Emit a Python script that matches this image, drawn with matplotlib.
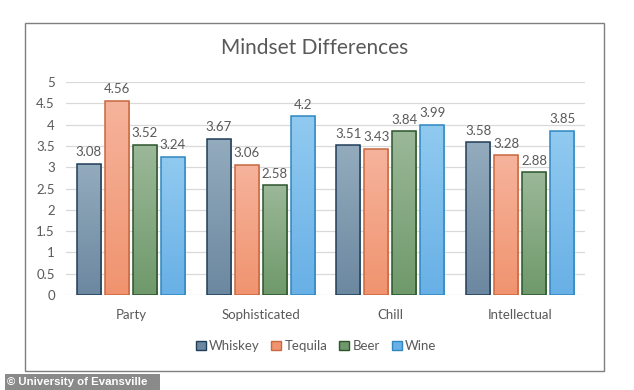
import numpy as np
import matplotlib
matplotlib.use("Agg")
from matplotlib import pyplot as plt
from matplotlib.patches import Rectangle
from matplotlib.colors import LinearSegmentedColormap

plt.rcParams['font.family'] = ['Lato', 'DejaVu Sans']

# 数据
categories = ['Party', 'Sophisticated', 'Chill', 'Intellectual']
series = ['Whiskey', 'Tequila', 'Beer', 'Wine']
whiskey = [3.08, 3.67, 3.51, 3.58]
tequila = [4.56, 3.06, 3.43, 3.28]
beer = [3.52, 2.58, 3.84, 2.88]
wine = [3.24, 4.2, 3.99, 3.85]
values = [whiskey, tequila, beer, wine]

# 渐变色 (上, 下) 和边框色
top_cols = ['#93abbd', '#f6b39c', '#9bb898', '#91caf0']
bot_cols = ['#6c88a0', '#f0946f', '#6f996b', '#68b0e6']
edge_cols = ['#203d58', '#c9673f', '#2b552b', '#2f87c0']
text_col = '#595959'

W, H = 634, 390
fig = plt.figure(figsize=(W / 100, H / 100), dpi=100)
ax = fig.add_axes([66 / W, (H - 295) / H, (585 - 66) / W, (295 - 82) / H])

x = np.arange(len(categories))
bw = 0.185
step = 0.216

for i, name in enumerate(series):
    pos = x + (i - 1.5) * step
    bars = ax.bar(pos, values[i], width=bw, facecolor='none',
                  edgecolor=edge_cols[i], linewidth=1.1, zorder=3, label=name)
    cmap = LinearSegmentedColormap.from_list('g%d' % i, [bot_cols[i], top_cols[i]])
    for b, v in zip(bars, values[i]):
        grad = np.linspace(0, 1, 100).reshape(-1, 1)
        im = ax.imshow(grad, cmap=cmap, origin='lower', aspect='auto',
                       extent=[b.get_x(), b.get_x() + bw, 0, v], zorder=2)
        im.set_clip_path(b)
        ax.annotate(f'{v:g}', (b.get_x() + bw / 2, v), xytext=(0, 4),
                    textcoords='offset points', ha='center', va='bottom',
                    fontsize=9.5, color=text_col)

ax.set_xlim(-0.5, 3.5)
ax.set_ylim(0, 5)
ax.set_yticks(np.arange(0, 5.01, 0.5))
ax.set_yticklabels([f'{t:g}' for t in np.arange(0, 5.01, 0.5)])
ax.set_xticks(x)
ax.set_xticklabels(categories)
ax.tick_params(length=0, labelsize=9.5, colors=text_col, pad=10)
ax.tick_params(axis='y', pad=8)
ax.yaxis.grid(True, color='#d9d9d9', linewidth=0.9, zorder=0)
ax.set_axisbelow(True)
for s in ax.spines.values():
    s.set_visible(False)

fig.text(315 / W, 1 - 48 / H, 'Mindset Differences', ha='center', va='center',
         fontsize=15, color=text_col)

handles = [Rectangle((0, 0), 1, 1, facecolor=bot_cols[i], edgecolor=edge_cols[i],
                     linewidth=1) for i in range(4)]
fig.legend(handles, series, loc='center', bbox_to_anchor=(316 / W, 1 - 346 / H),
           ncol=4, frameon=False, fontsize=9.5, handlelength=0.75, handleheight=0.75,
           handletextpad=0.25, columnspacing=0.9, labelcolor=text_col)

# 图表外框
fig.add_artist(Rectangle((25 / W, 1 - 371 / H), (604 - 25) / W, (371 - 23) / H,
                         transform=fig.transFigure, fill=False,
                         edgecolor='#7f7f7f', linewidth=1))

# 版权说明
fig.add_artist(Rectangle((5 / W, 0), (160 - 5) / W, 16 / H, transform=fig.transFigure,
                         facecolor='#8a8a8a', edgecolor='none'))
fig.text(7 / W, 8 / H, '© University of Evansville', ha='left', va='center',
         fontsize=8.2, color='white', fontweight='bold', family='Liberation Sans')

fig.savefig('out.png', dpi=100)
